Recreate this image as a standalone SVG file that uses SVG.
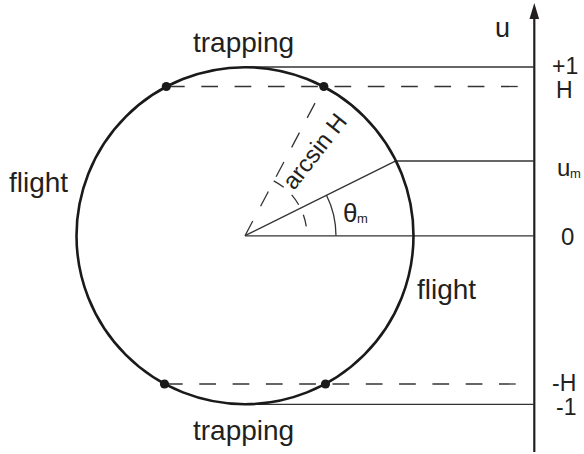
<svg xmlns="http://www.w3.org/2000/svg" width="584" height="454" viewBox="0 0 584 454">
  <style>
    .t { font-family: "Liberation Sans", Arial, sans-serif; fill: #231f20; }
    .thin { stroke: #333; stroke-width: 1.3; fill: none; }
    .dash { stroke: #333; stroke-width: 1.3; fill: none; stroke-dasharray: 16.7 16.6; }
    .dot { fill: #1a1a1a; }
  </style>

  <g id="axis">
    <line x1="534.3" y1="452" x2="534.3" y2="19" stroke="#231f20" stroke-width="2.2"/>
    <path d="M529.5,19 L534.3,3 L539.1,19 Z" fill="#231f20"/>
    <text class="t" x="495" y="37" font-size="27">u</text>
    <text class="t" x="552" y="74" font-size="23">+1</text>
    <text class="t" x="556" y="98" font-size="23">H</text>
    <text class="t" x="557" y="176" font-size="24">u</text>
    <text class="t" x="570" y="178" font-size="13">m</text>
    <text class="t" x="561" y="245" font-size="24">0</text>
    <text class="t" x="552" y="391" font-size="23">-H</text>
    <text class="t" x="556" y="415" font-size="23">-1</text>
  </g>

  <g id="connectors">
    <line class="thin" x1="245" y1="67" x2="534" y2="67"/>
    <line class="dash" x1="168" y1="86.5" x2="518" y2="86.5"/>
    <line class="thin" x1="245" y1="235.7" x2="395.8" y2="160.9"/>
    <line class="thin" x1="395.8" y1="161" x2="534" y2="161"/>
    <line class="thin" x1="245" y1="235.8" x2="534" y2="235.8"/>
    <line class="dash" x1="166" y1="384" x2="518" y2="384"/>
    <line class="thin" x1="245" y1="404.3" x2="534" y2="404.3"/>
    <line class="dash" x1="245" y1="235.7" x2="323.8" y2="86.5"/>
    <path class="thin" d="M336,235.8 A91,91 0 0 0 326.5,195.2"/>
    <path class="thin" d="M273.7,180.8 A62,62 0 0 1 307,235.8" stroke-dasharray="12 11"/>
  </g>

  <g id="circle">
    <circle cx="245" cy="235.7" r="168.5" fill="none" stroke="#1a1a1a" stroke-width="2.6"/>
    <circle class="dot" cx="166.3" cy="86.5" r="4.6"/>
    <circle class="dot" cx="323.8" cy="86.5" r="4.6"/>
    <circle class="dot" cx="164.5" cy="384" r="4.6"/>
    <circle class="dot" cx="325.5" cy="384" r="4.6"/>
  </g>

  <g id="labels">
    <text class="t" x="193" y="52" font-size="28">trapping</text>
    <text class="t" x="193" y="440" font-size="28">trapping</text>
    <text class="t" x="9" y="192" font-size="28">flight</text>
    <text class="t" x="417" y="299" font-size="28">flight</text>
    <text class="t" x="294" y="191" font-size="24" transform="rotate(-52 294 191)">arcsin H</text>
    <text class="t" x="343" y="222" font-size="26">θ</text>
    <text class="t" x="357" y="223" font-size="13">m</text>
  </g>
</svg>
